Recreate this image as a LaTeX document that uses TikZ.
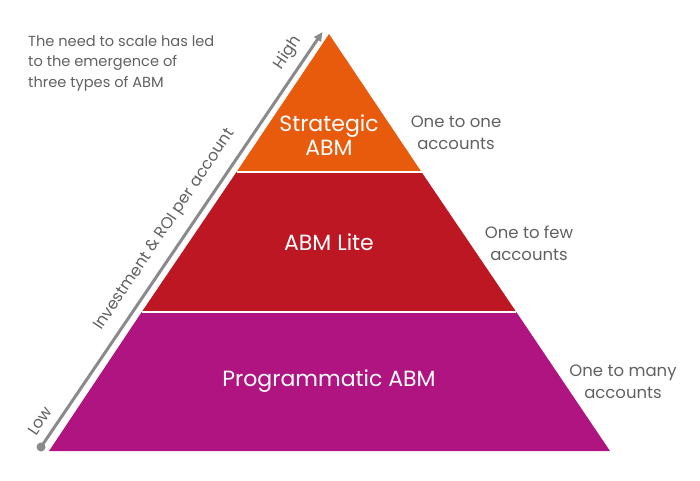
\documentclass[tikz,border=0pt]{standalone}
\usepackage{fontspec}
\setmainfont{Poppins}
\usetikzlibrary{arrows.meta}
\definecolor{tierorange}{HTML}{E85A0C}
\definecolor{tierred}{HTML}{BD1723}
\definecolor{tiermag}{HTML}{AF1480}
\definecolor{txtgray}{HTML}{616163}
\definecolor{axisgray}{HTML}{8A8A8C}
\tikzset{
  tierlabel/.style={text=white, font=\fontsize{22}{23.5}\selectfont, align=center, inner sep=0pt},
  sidelabel/.style={text=txtgray, font=\fontsize{16.5}{22}\selectfont, align=center, inner sep=0pt},
  axislabel/.style={text=txtgray, font=\fontsize{16}{18}\selectfont, inner sep=0pt, rotate=56.1},
  sep/.style={white, line width=1.6pt}
}
\begin{document}
\begin{tikzpicture}[x=1pt,y=-1pt]
\useasboundingbox (0,0) rectangle (700,480);
\coordinate (apex) at (329,34);
\coordinate (bl) at (49,451);
\coordinate (br) at (610,451);
\coordinate (t1l) at (236.5,172);
\coordinate (t1r) at (421.5,172);
\coordinate (t2l) at (141.7,312);
\coordinate (t2r) at (516.3,312);
\fill[tierorange] (apex) -- (t1r) -- (t1l) -- cycle;
\fill[tierred] (t1l) -- (t1r) -- (t2r) -- (t2l) -- cycle;
\fill[tiermag] (t2l) -- (t2r) -- (br) -- (bl) -- cycle;
\draw[sep] (t1l) -- (t1r);
\draw[sep] (t2l) -- (t2r);
% axis
\coordinate (low) at (41,447);
\coordinate (high) at (322.5,32);
\draw[axisgray, line width=3pt, -{Triangle[length=9pt,width=8pt]}] (low) -- (high);
\fill[axisgray] (low) circle (4.5pt);
\node[axislabel] (hi) at (288,53) {High};
\node[axislabel] (lo) at (40,421) {Low};
\node[axislabel] (inv) at (165,230) {Investment \& ROI per account};
% tier labels
\node[tierlabel] (strat) at (329,135) {Strategic\\ABM};
\node[tierlabel] (lite) at (329,242) {ABM Lite};
\node[tierlabel] (prog) at (329,381) {Programmatic ABM};
% side labels
\node[sidelabel] (one) at (456,133) {One to one\\accounts};
\node[sidelabel] (few) at (529,243) {One to few\\accounts};
\node[sidelabel] (many) at (623,382) {One to many\\accounts};
% intro text
\node[text=txtgray, font=\fontsize{14.6}{20.5}\selectfont, align=left, inner sep=0pt, anchor=north west] (intro) at (28,35) {The need to scale has led\\to the emergence of\\three types of ABM};
\end{tikzpicture}
\end{document}
